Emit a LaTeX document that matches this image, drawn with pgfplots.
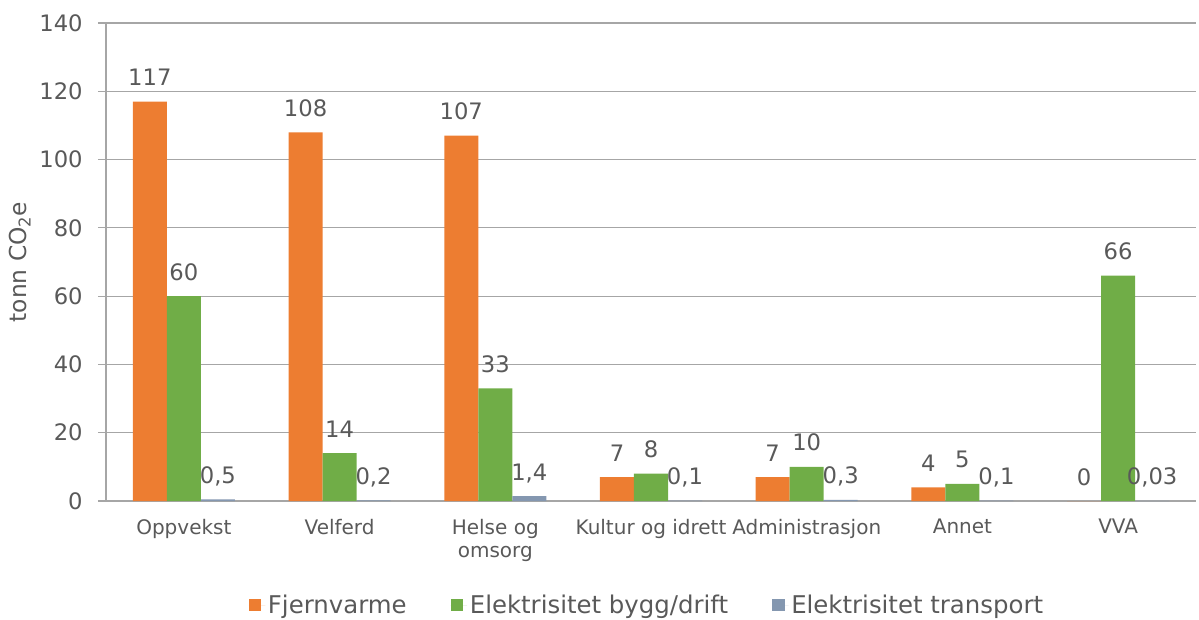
\documentclass[border=0pt]{standalone}
\usepackage{fontspec}
\setmainfont{DejaVu Sans}
\usepackage{pgfplots}
\pgfplotsset{compat=1.18}

\definecolor{fjern}{HTML}{ED7D31}
\definecolor{elbygg}{HTML}{70AD47}
\definecolor{eltrans}{HTML}{8497B0}
\definecolor{txt}{HTML}{595959}
\definecolor{gridc}{HTML}{A6A6A6}

\begin{document}
\begin{tikzpicture}
\useasboundingbox (-79.5pt,-88.5pt) rectangle (819.75pt,375.75pt);
\begin{axis}[
  at={(0,0)}, anchor=south west,
  width=817.5pt, height=358.5pt, scale only axis,
  xmin=-0.5, xmax=6.5, ymin=0, ymax=140,
  ytick={0,20,...,140},
  xtick={0,...,6},
  xticklabels={Oppvekst, Velferd, {Helse og\\omsorg}, Kultur og idrett, Administrasjon, Annet, VVA},
  xticklabel style={align=center, font=\fontsize{15}{17.25}\selectfont, text=txt, anchor=north, yshift=-4pt},
  yticklabel style={font=\fontsize{17}{20}\selectfont, text=txt, xshift=-8pt},
  /pgf/number format/assume math mode=true,
  axis x line*=bottom, axis y line*=left,
  axis line style={gridc, line width=0.9pt, -},
  ymajorgrids, grid style={gridc, line width=0.9pt},
  xtick style={draw=none},
  ytick style={gridc, line width=0.9pt},
  tick align=outside, major tick length=6pt,
  ylabel={tonn CO\textsubscript{2}e},
  every axis y label/.style={at={(axis description cs:-0.0789,0.5)}, rotate=90, anchor=center, font=\fontsize{17.5}{20}\selectfont, text=txt},
  ybar, bar width=0.2184,
  nodes near coords,
  nodes near coords style={font=\fontsize{17}{20}\selectfont, text=txt,
    /pgf/number format/fixed, /pgf/number format/precision=2,
    /pgf/number format/use comma, /pgf/number format/1000 sep={},
    /pgf/number format/assume math mode=true},
  every node near coord/.append style={anchor=base, yshift=12pt},
  legend columns=-1,
  legend style={at={(0.4966,-0.2176)}, anchor=center, draw=none, fill=none,
    font=\fontsize{18.3}{21}\selectfont, text=txt,
    /tikz/every even column/.append style={column sep=31pt}},
  legend image code/.code={\fill[#1] (0pt,-4.7pt) rectangle (9.4pt,4.7pt);
    \path (0pt,0pt) -- (12.4pt,0pt);},
]
% Fjernvarme
\addplot[fill=fjern, draw=none, bar shift=-0.2184] coordinates {
  (0,117) (1,108) (2,107) (3,7) (4,7) (5,4) (6,0)};
% Elektrisitet bygg/drift
\addplot[fill=elbygg, draw=none, bar shift=0] coordinates {
  (0,60) (1,14) (2,33) (3,8) (4,10) (5,5) (6,66)};
% Elektrisitet transport
\addplot[fill=eltrans, draw=none, bar shift=0.2184] coordinates {
  (0,0.5) (1,0.2) (2,1.4) (3,0.1) (4,0.3) (5,0.1) (6,0.03)};
\legend{Fjernvarme, Elektrisitet bygg/drift, Elektrisitet transport}
\end{axis}
\end{tikzpicture}
\end{document}
